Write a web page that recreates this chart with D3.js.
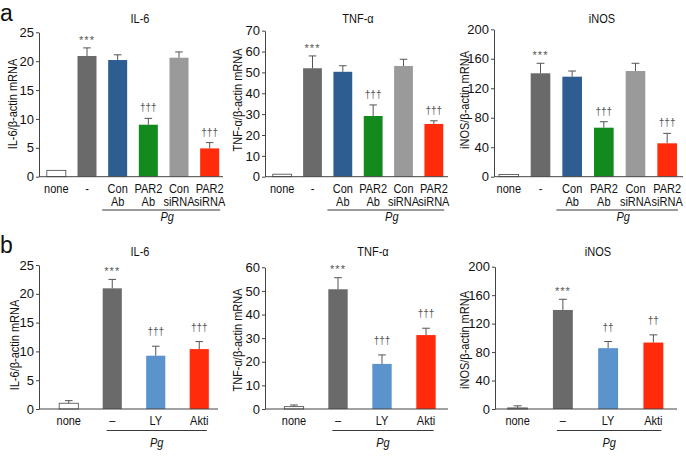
<!DOCTYPE html>
<html><head><meta charset="utf-8">
<script src="https://cdn.jsdelivr.net/npm/d3@7"></script>
<style>
body{margin:0;background:#fff;}
svg{display:block;font-family:"Liberation Sans",Arial,Helvetica,sans-serif;}
</style></head><body>
<svg id="c" width="686" height="472"></svg>
<script>
// ---------- data ----------
const catsA1 = ["none","-","Con","PAR2","Con","PAR2"];
const catsA2 = ["","","Ab","Ab","siRNA","siRNA"];
const catsB  = ["none","\u2013","LY","Akti"];

const il6A    = [1.1, 20.9, 20.2, 9.0, 20.6, 4.9];
const il6AErr = [0, 1.4, 0.9, 1.1, 1.0, 1.0];
const tnfA    = [1.2, 52.0, 50.3, 29.1, 53.1, 25.3];
const tnfAErr = [0, 5.9, 2.9, 5.3, 3.2, 1.5];
const inosA    = [3, 140.3, 135.7, 66.5, 143.4, 45.3];
const inosAErr = [0, 13.6, 7.7, 8.1, 10.5, 13.5];
const sigA = ["", "***", "", "\u2020\u2020\u2020", "", "\u2020\u2020\u2020"];

const il6B    = [1.0, 20.95, 9.25, 10.4];
const il6BErr = [0.45, 1.55, 1.65, 1.3];
const tnfB    = [1.0, 50.7, 19.1, 31.3];
const tnfBErr = [0.7, 4.9, 3.8, 2.9];
const inosB    = [1.5, 139.2, 85.5, 93.4];
const inosBErr = [3, 15, 9.3, 10.8];
const sigB1 = ["", "***", "\u2020\u2020\u2020", "\u2020\u2020\u2020"];
const sigB2 = ["", "***", "\u2020\u2020", "\u2020\u2020"];

const ticksIL6  = [0,5,10,15,20,25];
const ticksTNFA = [0,10,20,30,40,50,60,70];
const ticksTNFB = [0,10,20,30,40,50,60];
const ticksINOS = [0,40,80,120,160,200];

const colorsA = ["#ffffff","#6a6a6a","#2e5e91","#138a1e","#9a9a9a","#ff2b0a"];
const colorsB = ["#ffffff","#6a6a6a","#5b93cc","#ff2b0a"];

// ---------- drawing ----------
const svg = d3.select("#c");
const FS = 12.5, SX = 0.88;

function lbl(g, x, y, txt, extra){
  const t = g.append("text")
    .attr("transform", `translate(${x},${y})` + (extra && extra.rot ? " rotate(-90)" : "") + ` scale(${SX},1)`)
    .attr("text-anchor","middle").attr("font-size",FS).attr("fill","#111").text(txt);
  if(extra && extra.dy) t.attr("dy", extra.dy);
  if(extra && extra.italic) t.attr("font-style","italic");
  return t;
}

function drawChart(cfg, cats1, cats2, vals, errs, sigs, ticks, colors){
  const g = svg.append("g");
  const y = d3.scaleLinear().domain([0, d3.max(ticks)]).range([cfg.yBot, cfg.yTop]);
  const x = d3.scaleBand().domain(d3.range(vals.length))
      .range([cfg.x0 + cfg.bs, cfg.x0 + cfg.be]).paddingInner(cfg.pi).paddingOuter(cfg.pi/2);

  lbl(g, cfg.titleX, cfg.titleY, cfg.title);
  lbl(g, cfg.ylx, cfg.yly, cfg.ylabel, {rot:true, dy:"0.35em"});

  // bars
  g.selectAll("rect.bar").data(vals).enter().append("rect")
    .attr("x",(d,i)=>x(i)).attr("width",x.bandwidth())
    .attr("y",d=>y(d)).attr("height",d=>cfg.yBot - y(d))
    .attr("fill",(d,i)=>colors[i])
    .attr("stroke",(d,i)=> i===0 ? "#444" : "none").attr("stroke-width",0.8);

  // error bars (upper)
  vals.forEach((v,i)=>{
    if(!errs[i]) return;
    const cx = x(i) + x.bandwidth()/2;
    g.append("line").attr("x1",cx).attr("x2",cx).attr("y1",y(v)).attr("y2",y(v+errs[i]))
      .attr("stroke","#555").attr("stroke-width",1);
    g.append("line").attr("x1",cx-x.bandwidth()*0.2).attr("x2",cx+x.bandwidth()*0.2)
      .attr("y1",y(v+errs[i])).attr("y2",y(v+errs[i]))
      .attr("stroke","#555").attr("stroke-width",1);
  });

  // significance marks
  sigs.forEach((s,i)=>{
    if(!s) return;
    const cx = x(i) + x.bandwidth()/2;
    const isStar = s.indexOf("*")>=0;
    g.append("text").attr("x",cx).attr("y", y(vals[i]+errs[i]) - (isStar?cfg.sg:cfg.dg))
      .attr("text-anchor","middle").attr("font-size", isStar?11:10)
      .attr("letter-spacing", isStar?"1px":"0px")
      .attr("fill","#555").text(s);
  });

  // y axis
  const ax = g.append("g").attr("transform",`translate(${cfg.x0},0)`)
    .call(d3.axisLeft(y).tickValues(ticks).tickSize(3).tickSizeOuter(0).tickPadding(2));
  ax.select(".domain").attr("stroke","#444");
  ax.selectAll(".tick line").attr("stroke","#444");
  ax.selectAll(".tick text").attr("font-size",13).attr("fill","#111")
    .attr("font-family",'"Liberation Sans",Arial,sans-serif');

  // x axis baseline
  g.append("line").attr("x1",cfg.x0).attr("x2",cfg.xEnd).attr("y1",cfg.yBot).attr("y2",cfg.yBot)
    .attr("stroke","#444").attr("stroke-width",1);

  // category labels
  cats1.forEach((c,i)=>{
    const cx = x(i) + x.bandwidth()/2;
    lbl(g, cx, cfg.l1, c);
    if(cats2 && cats2[i]) lbl(g, cx, cfg.l2, cats2[i]);
  });

  // Pg bracket
  const ps = x(cfg.pgFirst) + cfg.pso;
  const pe = x(vals.length-1) + x.bandwidth() + cfg.peo;
  g.append("line").attr("x1",ps).attr("x2",pe).attr("y1",cfg.pgY).attr("y2",cfg.pgY)
    .attr("stroke","#222").attr("stroke-width",0.9);
  lbl(g, (ps+pe)/2 + cfg.pgdx, cfg.pgTY, "Pg", {italic:true});
}

// panel letters
svg.append("text").attr("x",0).attr("y",21).attr("font-size",23).attr("fill","#111").text("a");
svg.append("text").attr("x",0).attr("y",253).attr("font-size",23).attr("fill","#111").text("b");

const baseA = {yTop:32.3, yBot:176.7, pi:0.38, l1:193, l2:206, pgY:210, pgTY:221, pgFirst:2, pso:-6, peo:1, pgdx:6, titleY:22.5, sg:4, dg:7};
const baseB = {yTop:265.5, yBot:409, pi:0.56, l1:425, l2:0, pgY:430.5, pgTY:447, pgFirst:1, pso:4, peo:-2, pgdx:0, titleY:256, sg:4.5, dg:11};

drawChart(Object.assign({}, baseA, {x0:39, xEnd:223, bs:2, be:186, title:"IL-6", titleX:140, ylabel:"IL-6/\u03b2-actin mRNA", ylx:13, yly:104}),
  catsA1, catsA2, il6A, il6AErr, sigA, ticksIL6, colorsA);
drawChart(Object.assign({}, baseA, {yTop:30.7, x0:265, xEnd:448, bs:2, be:184, title:"TNF-\u03b1", titleX:358, ylabel:"TNF-\u03b1/\u03b2-actin mRNA", ylx:238, yly:100}),
  catsA1, catsA2, tnfA, tnfAErr, sigA, ticksTNFA, colorsA);
drawChart(Object.assign({}, baseA, {yTop:29.3, x0:494, xEnd:683, bs:-1, be:189, title:"iNOS", titleX:602, ylabel:"iNOS/\u03b2-actin mRNA", ylx:465, yly:100}),
  catsA1, catsA2, inosA, inosAErr, sigA, ticksINOS, colorsA);

drawChart(Object.assign({}, baseB, {yTop:265, x0:39, xEnd:218, bs:8, be:182, title:"IL-6", titleX:140, ylabel:"IL-6/\u03b2-actin mRNA", ylx:15, yly:345}),
  catsB, null, il6B, il6BErr, sigB1, ticksIL6, colorsB);
drawChart(Object.assign({}, baseB, {yTop:267.3, x0:265, xEnd:448, bs:7, be:183, title:"TNF-\u03b1", titleX:373, ylabel:"TNF-\u03b1/\u03b2-actin mRNA", ylx:238, yly:340}),
  catsB, null, tnfB, tnfBErr, sigB1, ticksTNFB, colorsB);
drawChart(Object.assign({}, baseB, {yTop:266.7, x0:495, xEnd:677, bs:0, be:181, title:"iNOS", titleX:598, ylabel:"iNOS/\u03b2-actin mRNA", ylx:465, yly:340}),
  catsB, null, inosB, inosBErr, sigB2, ticksINOS, colorsB);
</script>
</body></html>
